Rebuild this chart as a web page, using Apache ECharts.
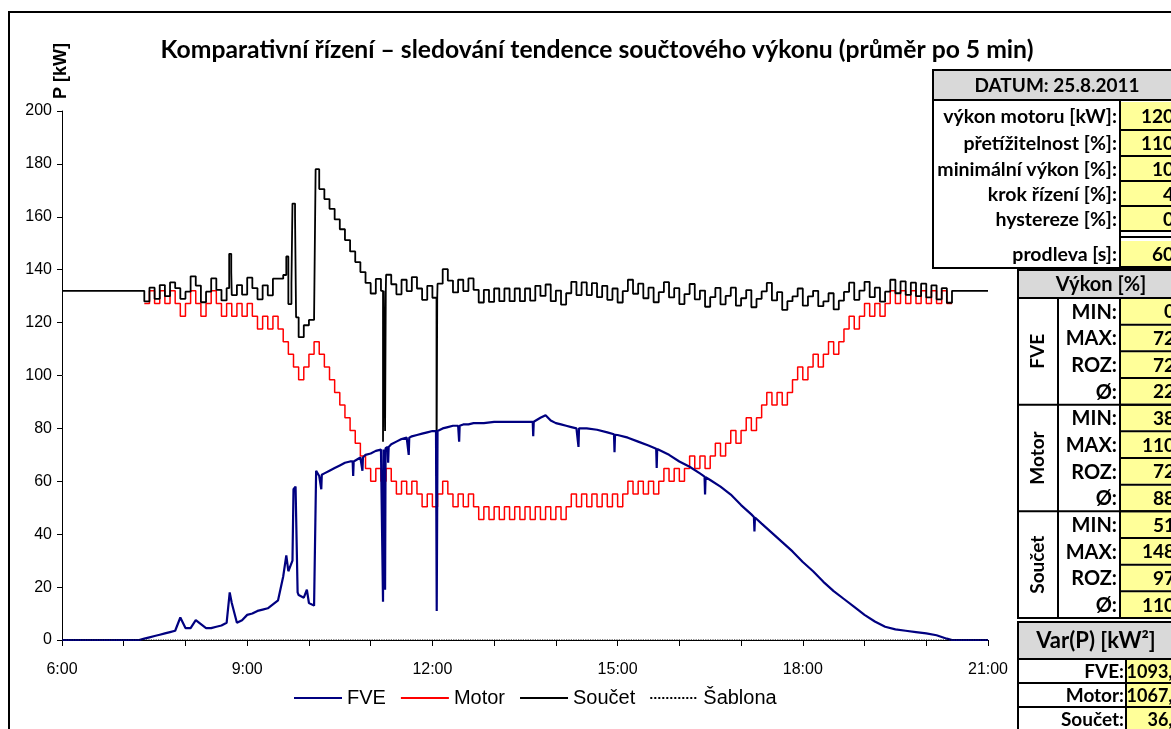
<!DOCTYPE html>
<html><head><meta charset="utf-8">
<script src="https://cdn.jsdelivr.net/npm/echarts@6/dist/echarts.min.js"></script>
<style>html,body{margin:0;padding:0;background:#fff}#c{width:1171px;height:729px}</style>
</head><body><div id="c"></div>
<script>
// time in minutes after midnight, power in kW
const fve = [[360,0],[435,0],[440,0.5],[445,1],[450,1.5],[455,2],[460,2.5],[465,3],[470,3.5],[475,8.5],[480,4.5],[485,4.5],[490,7.5],[495,6],[500,4.5],[505,4.5],[510,5],[515,5.5],[520,6.5],[523,18],[525,14],[530,6.5],[535,7.5],[540,9.5],[545,10],[550,11],[555,11.5],[560,12],[565,13.5],[570,15],[575,24],[578,32],[580,26],[584,30],[585,57],[587,58],[589,18],[590,17],[595,16],[598,19],[600,14],[605,13],[607,64],[610,62],[611.5,62.5],[612,57],[612.5,62.5],[615,63],[620,64],[625,65],[630,66],[635,67],[640,67.5],[642.5,67.5],[643,62],[643.5,67.5],[645,68],[650,69],[651.5,69],[652,64],[652.5,69],[655,70],[660,70.5],[665,71.5],[670,72],[671.5,72],[672,14.5],[672.5,72],[673.5,72],[674,19],[674.5,72.5],[676.5,73],[677,67],[677.5,73],[680,74],[685,75],[690,76],[695,76.5],[696.5,76.5],[697,70],[697.5,76.5],[700,77],[705,77.5],[710,78],[715,78.5],[720,79],[723.5,79],[724.2,11],[725,79],[730,80],[735,80.5],[740,81],[745,81],[745.5,81],[746,75],[746.5,81],[750,81.5],[755,81.5],[760,82],[770,82],[780,82.5],[790,82.5],[800,82.5],[810,82.5],[817.5,82.5],[818,77],[818.5,82.5],[820,83],[825,84],[830,85],[835,83],[840,82],[845,81.5],[850,81],[855,80.5],[860,80],[861.5,80],[862,73],[862.5,80],[870,80],[880,79.5],[890,78.5],[896.5,77.8],[897,71],[897.5,77.6],[900,77.5],[910,76.5],[920,75],[930,73.5],[937.5,72.3],[938,65],[938.5,72.2],[940,72],[950,70],[960,67.5],[970,65.5],[980,63],[984.5,61.8],[985,55],[985.5,61.6],[990,60.5],[1000,58],[1010,55],[1020,51],[1030,47.5],[1032.5,46.5],[1033,41],[1033.5,46.3],[1040,44],[1050,40.5],[1060,37],[1070,33.5],[1080,29.5],[1090,26],[1100,22],[1110,18.5],[1120,15.5],[1130,12.5],[1140,9.5],[1150,7],[1160,5],[1170,4],[1180,3.5],[1190,3],[1200,2.5],[1210,1.8],[1220,0.5],[1225,0],[1260,0]];

const motor = [[440,127.2],[445,132],[450,127.2],[455,132],[460,127.2],[465,132],[470,127.2],[475,122.4],[480,127.2],[485,132],[490,127.2],[495,122.4],[500,127.2],[505,132],[510,127.2],[515,122.4],[520,127.2],[525,122.4],[530,127.2],[535,122.4],[540,127.2],[545,122.4],[550,117.6],[555,122.4],[560,117.6],[565,122.4],[570,117.6],[575,112.8],[580,108],[585,103.2],[590,98.4],[595,103.2],[600,108],[605,112.8],[610,108],[615,103.2],[620,98.4],[625,93.6],[630,88.8],[635,84],[640,79.2],[645,74.4],[650,69.6],[655,64.8],[660,60],[665,64.8],[670,60],[675,64.8],[680,60],[685,55.2],[690,60],[695,55.2],[700,60],[705,55.2],[710,50.4],[715,55.2],[720,50.4],[725,55.2],[730,60],[735,55.2],[740,50.4],[745,55.2],[750,50.4],[755,55.2],[760,50.4],[765,45.6],[770,50.4],[775,45.6],[780,50.4],[785,45.6],[790,50.4],[795,45.6],[800,50.4],[805,45.6],[810,50.4],[815,45.6],[820,50.4],[825,45.6],[830,50.4],[835,45.6],[840,50.4],[845,45.6],[850,50.4],[855,55.2],[860,50.4],[865,55.2],[870,50.4],[875,55.2],[880,50.4],[885,55.2],[890,50.4],[895,55.2],[900,50.4],[905,55.2],[910,60],[915,55.2],[920,60],[925,55.2],[930,60],[935,55.2],[940,60],[945,64.8],[950,60],[955,64.8],[960,60],[965,64.8],[970,69.6],[975,64.8],[980,69.6],[985,64.8],[990,69.6],[995,74.4],[1000,69.6],[1005,74.4],[1010,79.2],[1015,74.4],[1020,79.2],[1025,84],[1030,79.2],[1035,84],[1040,88.8],[1045,93.6],[1050,88.8],[1055,93.6],[1060,88.8],[1065,93.6],[1070,98.4],[1075,103.2],[1080,98.4],[1085,103.2],[1090,108],[1095,103.2],[1100,108],[1105,112.8],[1110,108],[1115,112.8],[1120,117.6],[1125,122.4],[1130,117.6],[1135,122.4],[1140,127.2],[1145,122.4],[1150,127.2],[1155,122.4],[1160,127.2],[1165,132],[1170,127.2],[1175,132],[1180,127.2],[1185,132],[1190,127.2],[1195,132],[1200,127.2],[1205,132],[1210,127.2],[1215,132],[1220,127.2],[1225,127.2]];

const soucet = [[360,132],[435,132],[440,128],[445,133.2],[450,129],[455,134.2],[460,130],[465,135.2],[470,133],[475,129],[480,131.7],[485,137.5],[490,134],[495,127.7],[500,131.7],[505,136.7],[510,132.4],[515,128.4],[520,133],[522.5,146],[524.5,139],[525,130.4],[530,134.2],[535,130.6],[540,137],[545,133],[550,128.8],[555,134.1],[560,130.3],[565,136.6],[570,136.6],[575,138],[578,145],[580,127],[583,135],[584,165],[586.5,160],[587.5,122],[590,114.5],[595,119],[600,121],[605,122],[606.5,178],[610,170.5],[615,166.7],[620,163],[625,159],[630,155.3],[635,151.2],[640,146.9],[645,142.9],[650,139.1],[655,135],[660,131],[665,136.5],[670,132],[672,75],[672.7,132],[674,79],[674.7,132],[675,138.1],[680,134.5],[685,130.7],[690,136.2],[695,131.9],[700,137.2],[705,132.9],[710,128.6],[715,133.9],[720,129.4],[724,62],[724.7,129.4],[725,134.7],[730,140.2],[735,135.9],[740,131.4],[745,136.2],[750,131.9],[755,136.7],[760,132.4],[765,127.6],[770,132.4],[775,127.8],[780,132.9],[785,128.1],[790,132.9],[795,128.1],[800,132.9],[805,128.1],[810,132.9],[815,128.3],[820,133.9],[825,130.1],[830,134.4],[835,128.1],[840,132.1],[845,126.8],[850,131.1],[855,135.4],[860,130.4],[865,135.2],[870,130.4],[875,134.9],[880,129.6],[885,133.9],[890,128.6],[895,132.9],[900,127.6],[905,131.9],[910,136.2],[915,130.9],[920,134.7],[925,129.2],[930,133.2],[935,127.7],[940,131.5],[945,135.3],[950,129.5],[955,133],[960,127],[965,130.8],[970,134.6],[975,128.8],[980,132.1],[985,126],[990,129.6],[995,133.1],[1000,126.9],[1005,130.1],[1010,133.2],[1015,126.4],[1020,129.2],[1025,132.3],[1030,125.8],[1035,129],[1040,131.8],[1045,135],[1050,128.4],[1055,131.5],[1060,124.8],[1065,128.1],[1070,129.9],[1075,132.9],[1080,126.4],[1085,129.9],[1090,132],[1095,126.2],[1100,128],[1105,131.1],[1110,125],[1115,128.3],[1120,131.6],[1125,135.1],[1130,128.6],[1135,132.1],[1140,135.4],[1145,129.6],[1150,133.2],[1155,127.9],[1160,131.7],[1165,136.2],[1170,131.1],[1175,135.6],[1180,130.5],[1185,135.1],[1190,130],[1195,134.7],[1200,129.5],[1205,134.1],[1210,128.8],[1215,133],[1220,127.5],[1225,132],[1260,132]];

const sablona = [[360,0],[1260,0]];

const seriesNames = ['FVE','Motor','Součet','Šablona'];
const titleText = 'Komparativní řízení – sledování tendence součtového výkonu (průměr po 5 min)';
const yAxisTitle = 'P [kW]';

// side tables
const datumHeader = 'DATUM: 25.8.2011';
const paramLabels = ['výkon motoru [kW]:','přetížitelnost [%]:','minimální výkon [%]:','krok řízení [%]:','hystereze [%]:','prodleva [s]:'];
const paramValues = ['120','110','10','4','0','60'];
const vykonHeader = 'Výkon [%]';
const vykonGroups = ['FVE','Motor','Součet'];
const vykonRowLabels = ['MIN:','MAX:','ROZ:','Ø:'];
const vykonValues = [['0','72','72','22'],['38','110','72','88'],['51','148','97','110']];
const varHeader = 'Var(P) [kW²]';
const varLabels = ['FVE:','Motor:','Součet:'];
const varValues = ['1093,2','1067,3','36,3'];

const chart = echarts.init(document.getElementById('c'));
const F = 'Lato, "Open Sans", sans-serif';
const A = '"Liberation Sans", Arial, sans-serif';
const YEL = '#ffff99', GRY = '#d9d9d9';
const g = [];
function rect(x,y,w,h,fill,lw){ g.push({type:'rect',shape:{x,y,width:w,height:h},style:{fill:fill||'none',stroke:lw?'#000':null,lineWidth:lw||0},z:10}); }
function line(x1,y1,x2,y2,lw){ g.push({type:'line',shape:{x1,y1,x2,y2},style:{stroke:'#000',lineWidth:lw||2},z:12}); }
function txt(x,y,s,align,size,rot){ g.push({type:'text',x,y,rotation:rot||0,style:{text:s,fill:'#000',font:'bold '+(size||16)+'px '+F,textAlign:align||'left',textVerticalAlign:'middle'},z:14}); }

// chart frame
rect(9,12,1200,740,null,2);
// title & y title
txt(597,50,titleText,'center',24.7);
g.push({type:'text',x:61,y:71,rotation:Math.PI/2,style:{text:yAxisTitle,fill:'#000',font:'bold 18px '+A,textAlign:'center',textVerticalAlign:'middle'},z:14});

// Box 1
rect(933,70,260,198,'#fff',2);
rect(934,71,258,29,GRY,0); line(933,100,1193,100,2);
txt(1057,86,datumHeader,'center',19);
const r1 = [[102,129],[131,155],[157,180],[182,205],[207,230],[241,266]];
line(1120,100,1120,268,2);
r1.forEach((r,i)=>{ rect(1121,r[0],80,r[1]-r[0],YEL,0); line(1121,r[1]+1,1193,r[1]+1,2); txt(1117,(r[0]+r[1])/2+1,paramLabels[i],'right',19.5); txt(1174,(r[0]+r[1])/2+1,paramValues[i],'right',19); });
line(1121,237,1193,237,2);

// Box 2
rect(1018,270,200,348,'#fff',2);
rect(1019,271,198,27,GRY,0); line(1018,298,1193,298,2);
txt(1101,285,vykonHeader,'center',20);
line(1058,298,1058,618,2); line(1120,298,1120,618,2);
const RH = 26.67;
vykonGroups.forEach((gn,gi)=>{
  const y0 = 298 + gi*4*RH;
  txt(1038,y0+2*RH,gn,'center',19,Math.PI/2);
  for(let r=0;r<4;r++){
    const a = y0 + r*RH, b = a + RH;
    rect(1121,a+1,80,b-a-2,YEL,0);
    line(1121,b,1193,b,2);
    txt(1117,(a+b)/2+1,vykonRowLabels[r],'right',20);
    txt(1175,(a+b)/2+1,vykonValues[gi][r],'right',19);
  }
  line(1018,y0+4*RH,1193,y0+4*RH,2);
});

// Box 3
rect(1018,622,200,140,'#fff',2);
rect(1019,623,198,36,GRY,0); line(1018,659,1193,659,2);
txt(1096,641,varHeader,'center',22);
line(1126,659,1126,740,2);
const r3=[[659,683],[683,707],[707,731]];
r3.forEach((r,i)=>{ rect(1127,r[0]+1,80,r[1]-r[0]-2,YEL,0); line(1018,r[1],1193,r[1],2); txt(1124,(r[0]+r[1])/2+1,varLabels[i],'right',19); txt(1183,(r[0]+r[1])/2+1,varValues[i],'right',18); });

const hm = v => (v%180===0) ? (v/60)+':00' : '';
chart.setOption({
  animation:false,
  backgroundColor:'#fff',
  grid:{left:62,right:183,top:111,bottom:89},
  legend:{data:seriesNames,left:288,top:683,itemWidth:48,itemHeight:14,itemGap:14,itemStyle:{opacity:0},textStyle:{fontFamily:A,fontSize:20,color:'#000'}},
  xAxis:{type:'value',min:360,max:1260,interval:60,
    axisLine:{show:true,onZero:false,lineStyle:{color:'#000',width:1}},
    axisTick:{show:true,length:6,lineStyle:{color:'#000'}},
    axisLabel:{formatter:hm,fontFamily:A,fontSize:16,color:'#000',margin:22,showMinLabel:true,showMaxLabel:true},
    splitLine:{show:false}},
  yAxis:{type:'value',min:0,max:200,interval:20,
    axisLine:{show:true,lineStyle:{color:'#000',width:1}},
    axisTick:{show:true,length:5,lineStyle:{color:'#000'}},
    axisLabel:{fontFamily:A,fontSize:16,color:'#000',margin:10},
    splitLine:{show:false}},
  series:[
    {name:'Motor',type:'line',step:'end',data:motor,symbol:'none',lineStyle:{color:'#ff0000',width:1.5},itemStyle:{color:'#ff0000'},z:2},
    {name:'Součet',type:'line',step:'end',data:soucet,symbol:'none',lineStyle:{color:'#000000',width:1.8},itemStyle:{color:'#000'},z:3},
    {name:'FVE',type:'line',data:fve,symbol:'none',lineStyle:{color:'#000080',width:2.2},itemStyle:{color:'#000080'},z:4},
    {name:'Šablona',type:'line',data:sablona,symbol:'none',lineStyle:{color:'#000',width:1.2,type:'dotted'},itemStyle:{color:'#000'},z:5}
  ],
  graphic:g
});
</script></body></html>
